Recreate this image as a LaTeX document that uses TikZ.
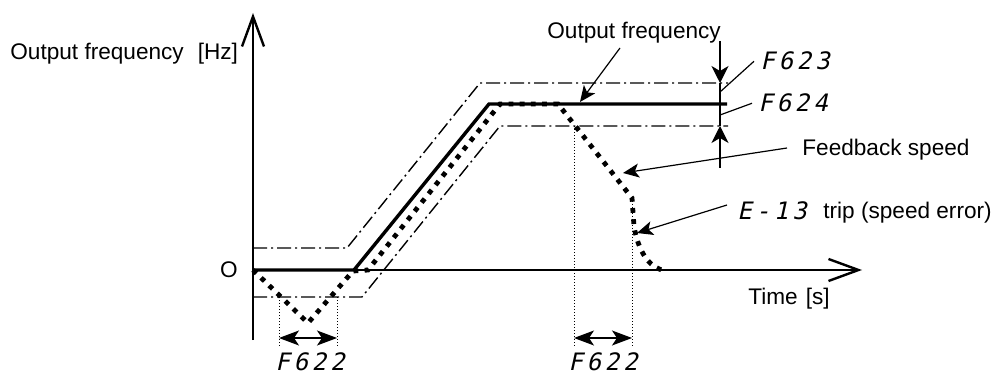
\documentclass[tikz,border=0pt]{standalone}
\usepackage{fontspec}
\setmainfont{Liberation Sans}
\newfontfamily\segfont[FakeSlant=0.22,LetterSpace=16]{DejaVu Sans Mono}
\usetikzlibrary{arrows.meta}
\begin{document}
\begin{tikzpicture}[x=0.5pt,y=-0.5pt,
  lbl/.style={inner sep=0pt, font=\fontsize{11.3pt}{13pt}\selectfont},
  seg/.style={inner sep=0pt, font=\fontsize{12pt}{14pt}\segfont},
  axis/.style={line width=1.2pt, -{Straight Barb[length=15pt,width=11pt]}},
  dashdot/.style={line width=0.7pt, dash pattern=on 7pt off 2pt on 1pt off 2pt},
  outline/.style={line width=1.7pt},
  fb/.style={line width=2.4pt, dash pattern=on 2.4pt off 3.2pt},
  thindot/.style={line width=0.5pt, dash pattern=on 0.5pt off 1pt},
  pointer/.style={line width=0.6pt, -{Stealth[length=8pt,width=7pt,inset=2pt]}},
  spanarrow/.style={line width=0.6pt, {Stealth[length=10pt,width=7.5pt,inset=2.5pt]}-{Stealth[length=10pt,width=7.5pt,inset=2.5pt]}},
  lead/.style={line width=0.6pt}]
\useasboundingbox (0,0) rectangle (992,374);

% axes
\coordinate (O) at (253,270);
\coordinate (ybot) at (253,340);
\coordinate (ytop) at (253,13);
\coordinate (xtip) at (862,270);
\draw[axis] (ybot) -- (ytop);
\draw[axis] (O) -- (xtip);

% labels
\node[lbl, anchor=base west] (ylab) at (10,60) {Output frequency\hspace{7pt}[Hz]};
\node[lbl, anchor=base east] (olab) at (238,278) {O};
\node[lbl, anchor=base west] (xlab) at (748,305) {Time\hspace{4pt}[s]};
\node[lbl, anchor=base west] (oflab) at (547,39) {Output frequency};
\node[lbl, anchor=base west] (fblab) at (802,156) {Feedback speed};
\node[seg, anchor=base west] (e13) at (737,220) {E-13};
\node[lbl, anchor=base west] (triplab) at (823,219) {trip (speed error)};
\node[seg, anchor=base west] (f623) at (760,70) {F623};
\node[seg, anchor=base west] (f624) at (758,112) {F624};
\node[seg, anchor=base west] (f622a) at (275,370) {F622};
\node[seg, anchor=base west] (f622b) at (568,370) {F622};

% band limits
\draw[dashdot] (253,248) -- (347,248) -- (480,83) -- (728,83);
\draw[dashdot] (253,297) -- (362,297) -- (500,126) -- (728,126);

% feedback speed
\draw[fb] (O) -- (308,323) -- (353,271) -- (368,270) -- (500,104) -- (558,104)
  -- (632,198) -- (634,226) .. controls (638,250) and (648,268) .. (666,271);

% output frequency
\draw[outline] (O) -- (354,270) -- (489,104) -- (727,104);

% thin dotted verticals
\draw[thindot] (279,297) -- (279,348);
\draw[thindot] (337,297) -- (337,348);
\draw[thindot] (574,126) -- (574,348);
\draw[thindot] (632,198) -- (632,348);

% span arrows
\coordinate (s1a) at (279,338);
\coordinate (s1b) at (337,338);
\coordinate (s2a) at (574,338);
\coordinate (s2b) at (632,338);
\draw[spanarrow] (s1a) -- (s1b);
\draw[spanarrow] (s2a) -- (s2b);

% F623 / F624 indicators
\coordinate (vtop) at (720,41);
\coordinate (vup) at (720,83);
\coordinate (vlo) at (720,126);
\coordinate (vbot) at (720,168);
\draw[line width=0.6pt, -{Stealth[length=8.5pt,width=8.5pt,inset=2.5pt]}] (vtop) -- (vup);
\draw[lead] (vup) -- (vlo);
\draw[line width=0.6pt, -{Stealth[length=8.5pt,width=8.5pt,inset=2.5pt]}] (vbot) -- (vlo);
\coordinate (l1) at (720,92);
\coordinate (l2) at (720,115);
\draw[lead] (l1) -- ([xshift=-3pt]f623.west);
\draw[lead] (l2) -- ([xshift=-3pt]f624.west);

% pointers
\coordinate (p1s) at (620,48);
\coordinate (p1e) at (580,102);
\draw[pointer] (p1s) -- (p1e);
\coordinate (p2s) at (787,148);
\coordinate (p2e) at (623,173);
\draw[pointer] (p2s) -- (p2e);
\coordinate (p3s) at (727,205);
\coordinate (p3e) at (637,233);
\draw[pointer] (p3s) -- (p3e);
\end{tikzpicture}
\end{document}
